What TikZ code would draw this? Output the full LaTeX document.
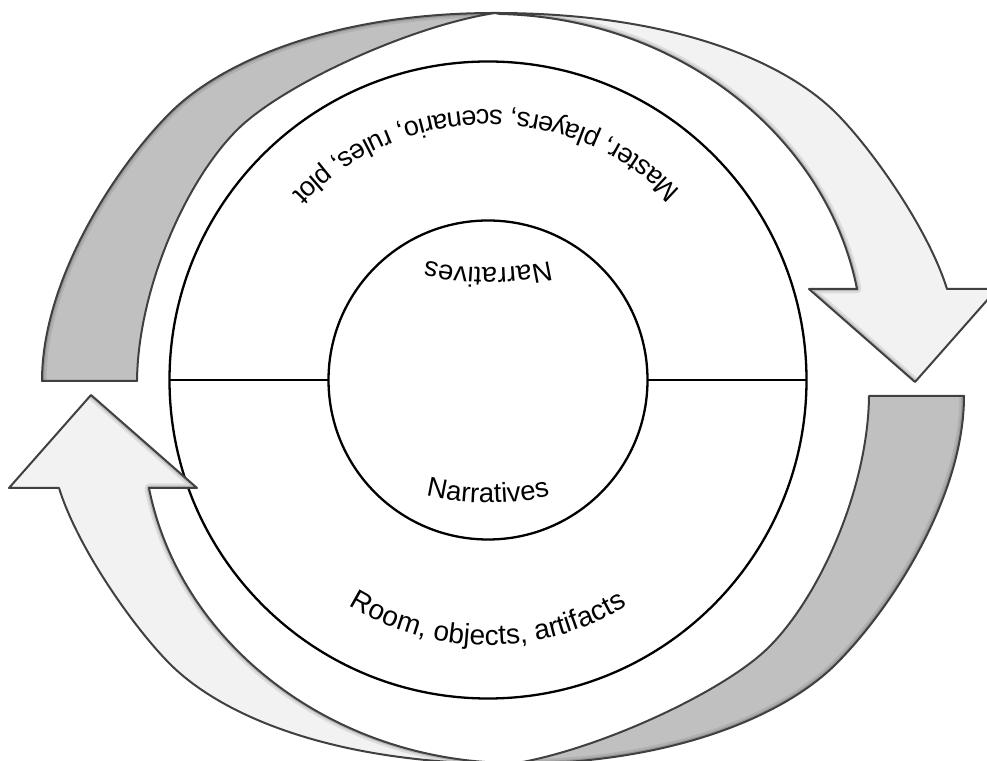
\documentclass[tikz,border=0pt]{standalone}
\usepackage{fontspec}
\setmainfont{Liberation Sans}
\usetikzlibrary{decorations.text}
\definecolor{backgray}{HTML}{C0C0C0}
\definecolor{frontgray}{HTML}{F2F2F2}
\definecolor{edgegray}{HTML}{404040}
\newcommand\cyclearrow{%
  % back (darker) half of the twisted ribbon
  \begin{scope}
    \clip (42,381) .. controls (42,280) and (115,168) .. (170,113) .. controls (220,63) and (330,13) .. (495,13) .. controls (410,26) and (282,85) .. (237,130) .. controls (185,182) and (138,290) .. (137,381) -- cycle;
    \fill[backgray] (0,0) rectangle (1000,400);
    \draw[shadowline, line width=9pt, opacity=0.12] (42,381) .. controls (42,280) and (115,168) .. (170,113) .. controls (220,63) and (330,13) .. (495,13);
    \draw[shadowline, line width=4.5pt, opacity=0.22] (42,381) .. controls (42,280) and (115,168) .. (170,113) .. controls (220,63) and (330,13) .. (495,13);
  \end{scope}
  \draw[ribbonedge] (42,381) .. controls (42,280) and (115,168) .. (170,113) .. controls (220,63) and (330,13) .. (495,13) .. controls (410,26) and (282,85) .. (237,130) .. controls (185,182) and (138,290) .. (137,381) -- cycle;
  % front (light) half with the arrow head
  \begin{scope}
    \clip (495,13) .. controls (676,13) and (786,63) .. (836,113) .. controls (871,148) and (928,228) .. (947,289) -- (997,289) -- (915,382) -- (809,289) -- (857,289) .. controls (827,137) and (679,18) .. (500,14) -- cycle;
    \fill[frontgray] (400,0) rectangle (1010,400);
    \draw[shadowline, line width=9pt, opacity=0.12] (915,382) -- (809,289) -- (857,289) .. controls (827,137) and (679,18) .. (500,14);
    \draw[shadowline, line width=4.5pt, opacity=0.22] (915,382) -- (809,289) -- (857,289) .. controls (827,137) and (679,18) .. (500,14);
  \end{scope}
  \draw[ribbonedge] (495,13) .. controls (676,13) and (786,63) .. (836,113) .. controls (871,148) and (928,228) .. (947,289) -- (997,289) -- (915,382) -- (809,289) -- (857,289) .. controls (827,137) and (679,18) .. (500,14) -- cycle;
}
\begin{document}
\begin{tikzpicture}[x=1pt,y=1pt,
  ring/.style={circle, draw=black, line width=2.3pt, inner sep=0pt, outer sep=0pt},
  divider/.style={draw=black, line width=2.3pt},
  ribbonedge/.style={draw=edgegray, line width=2pt, line join=round},
  shadowline/.style={draw=edgegray, line join=round},
  arclabel/.style={decorate, decoration={text along path, text align=center, text={#1}}}]
\useasboundingbox (0,0) rectangle (987,760);
\clip (0,0) rectangle (987,760);
% rings
\node[ring, minimum size=637pt] (outer) at (488,380) {};
\node[ring, minimum size=319pt] (inner) at (488,380) {};
\draw[divider] (outer.west) -- (inner.west);
\draw[divider] (inner.east) -- (outer.east);
% circular arrows
\begin{scope}[shift={(0,760)}, yscale=-1]
  \cyclearrow
  \begin{scope}[rotate around={180:(503,388.5)}]
    \cyclearrow
  \end{scope}
\end{scope}
% curved labels
\path[arclabel={|\fontsize{27}{32}\selectfont|Master{,} players{,} scenario{,} rules{,} plot}]
  (488,380) ++(38:270) arc (38:143:270);
\path[arclabel={|\fontsize{27.5}{32}\selectfont|Narratives}]
  (488,767) ++(290:275) arc (290:250:275);
\path[arclabel={|\fontsize{27.5}{32}\selectfont|Narratives}]
  (488,527) ++(250:270) arc (250:290:270);
\path[arclabel={|\fontsize{28}{32}\selectfont|Room{,} objects{,} artifacts}]
  (488,380) ++(226:265) arc (226:314:265);
\end{tikzpicture}
\end{document}
